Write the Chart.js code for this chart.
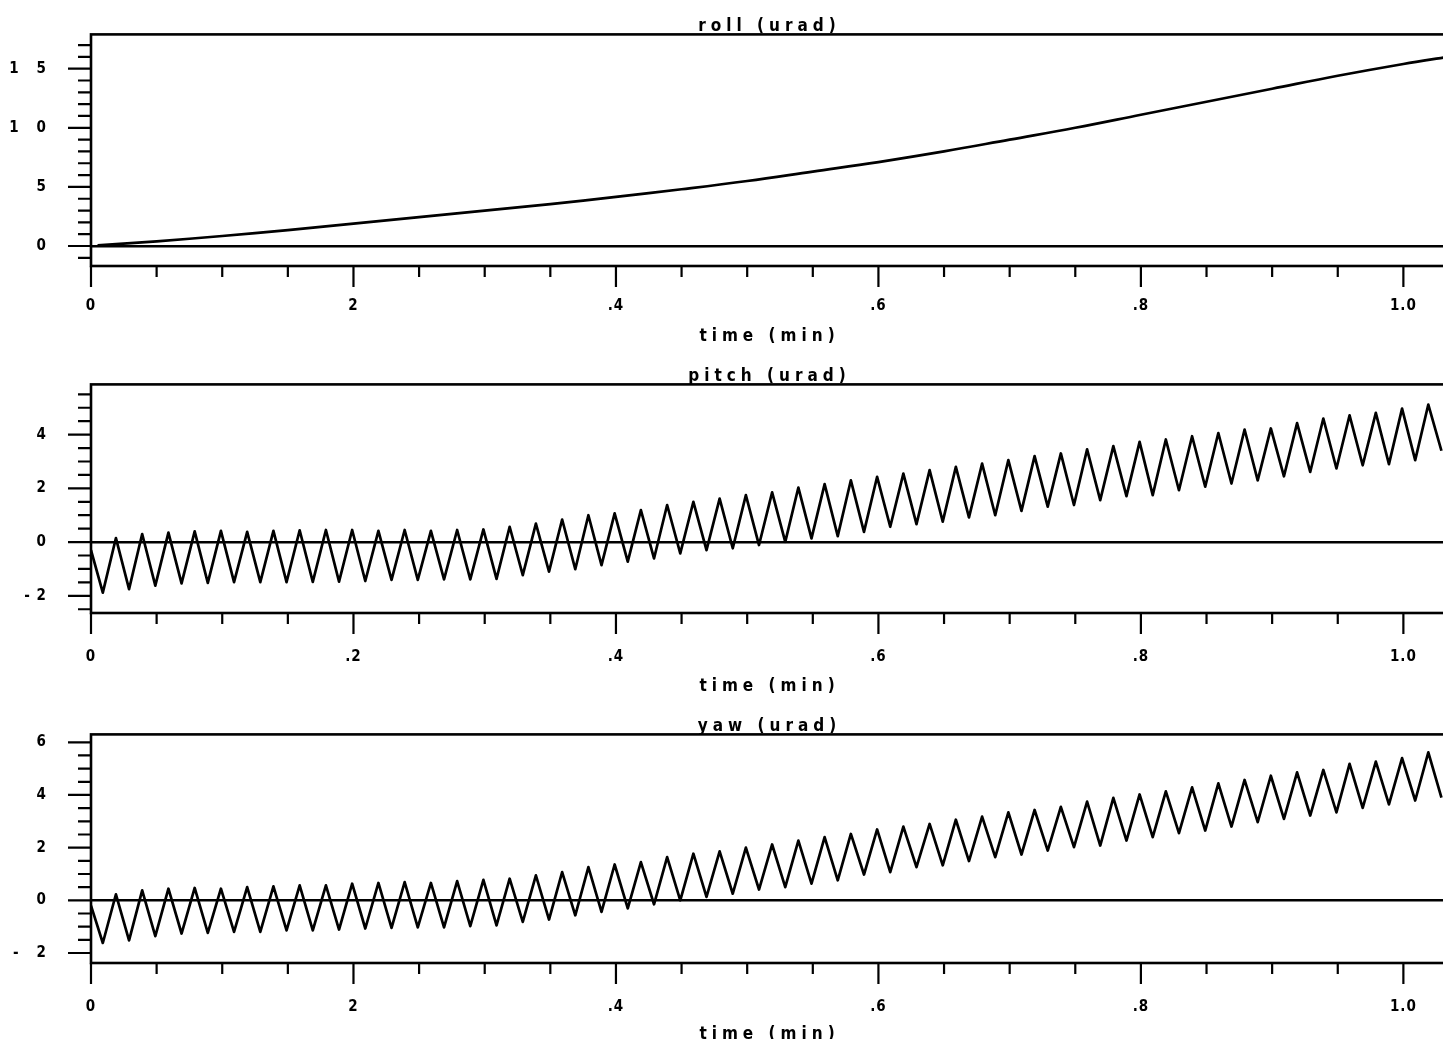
<!DOCTYPE html>
<html>
<head>
<meta charset="utf-8">
<script src="https://cdn.jsdelivr.net/npm/chart.js@4.4.1/dist/chart.umd.min.js"></script>
<style>
  html, body { margin: 0; padding: 0; background: #fff; overflow: hidden; width: 1443px; height: 1039px; }
  canvas { position: absolute; left: 0; }
  #roll { top: 0; }
  #pitch { top: 350px; }
  #yaw { top: 700px; }
</style>
</head>
<body>
<canvas id="roll" width="1448" height="350"></canvas>
<canvas id="pitch" width="1448" height="350"></canvas>
<canvas id="yaw" width="1448" height="350"></canvas>
<script>
// roll drift, sampled every 0.05 min
const rollTimes = [0.005, 0.05, 0.1, 0.15, 0.2, 0.25, 0.3, 0.35, 0.4, 0.45, 0.5, 0.55,
  0.6, 0.65, 0.7, 0.75, 0.8, 0.85, 0.9, 0.95, 1.0, 1.034];
const rollValues = [0.05, 0.4, 0.85, 1.35, 1.9, 2.45, 3.0, 3.55, 4.15, 4.8, 5.5, 6.3,
  7.1, 8.0, 9.0, 10.0, 11.1, 12.2, 13.3, 14.4, 15.4, 16.0];

// pitch / yaw: start value, then alternating trough / peak every 0.01 min from t = 0.009
const swingStart = 0.009;
const swingStep = 0.01;
const pitchValues = [-0.3,
  -1.88, 0.15, -1.75, 0.30, -1.62, 0.35, -1.54, 0.40, -1.52, 0.42,
  -1.49, 0.38, -1.49, 0.42, -1.49, 0.44, -1.48, 0.45, -1.47, 0.45,
  -1.45, 0.42, -1.41, 0.45, -1.41, 0.42, -1.39, 0.45, -1.39, 0.47,
  -1.37, 0.57, -1.23, 0.69, -1.10, 0.84, -1.01, 1.00, -0.86, 1.07,
  -0.73, 1.19, -0.61, 1.38, -0.42, 1.50, -0.30, 1.62, -0.23, 1.75,
  -0.11, 1.85, 0.01, 2.03, 0.14, 2.16, 0.22, 2.30, 0.38, 2.43,
  0.57, 2.55, 0.67, 2.68, 0.76, 2.80, 0.92, 2.92, 1.00, 3.05,
  1.16, 3.20, 1.32, 3.30, 1.38, 3.45, 1.56, 3.57, 1.71, 3.73,
  1.75, 3.82, 1.93, 3.94, 2.06, 4.06, 2.18, 4.19, 2.30, 4.23,
  2.45, 4.43, 2.61, 4.60, 2.74, 4.72, 2.86, 4.81, 2.90, 4.97,
  3.05, 5.12, 3.40];
const yawValues = [-0.2,
  -1.62, 0.23, -1.52, 0.38, -1.36, 0.44, -1.26, 0.47, -1.24, 0.44,
  -1.20, 0.50, -1.20, 0.53, -1.14, 0.57, -1.14, 0.57, -1.11, 0.63,
  -1.07, 0.66, -1.05, 0.69, -1.03, 0.66, -1.03, 0.73, -0.98, 0.78,
  -0.95, 0.82, -0.82, 0.95, -0.73, 1.07, -0.57, 1.26, -0.44, 1.36,
  -0.31, 1.45, -0.15, 1.64, 0.00, 1.77, 0.13, 1.86, 0.25, 2.00,
  0.41, 2.12, 0.50, 2.27, 0.63, 2.40, 0.76, 2.52, 0.98, 2.69,
  1.07, 2.80, 1.26, 2.90, 1.33, 3.06, 1.49, 3.18, 1.64, 3.34,
  1.74, 3.43, 1.89, 3.55, 2.02, 3.75, 2.08, 3.89, 2.27, 4.02,
  2.40, 4.14, 2.55, 4.29, 2.65, 4.44, 2.80, 4.57, 2.97, 4.73,
  3.09, 4.86, 3.22, 4.95, 3.34, 5.18, 3.51, 5.27, 3.64, 5.40,
  3.79, 5.62, 3.90];

// axis labels
const xTickValues = [0, 0.2, 0.4, 0.6, 0.8, 1.0];
const rollXLabels = ['0', '2', '.4', '.6', '.8', '1.0'];
const pitchXLabels = ['0', '.2', '.4', '.6', '.8', '1.0'];
const yawXLabels = ['0', '2', '.4', '.6', '.8', '1.0'];
const rollYTicks = [0, 5, 10, 15];
const rollYLabels = ['0', '5', '1   0', '1   5'];
const pitchYTicks = [-2, 0, 2, 4];
const pitchYLabels = ['- 2', '0', '2', '4'];
const yawYTicks = [-2, 0, 2, 4, 6];
const yawYLabels = ['-   2', '0', '2', '4', '6'];

const FONT = "'Liberation Sans Narrow', 'DejaVu Sans Condensed', 'DejaVu Sans', sans-serif";
const TITLE_FONT = { family: FONT, size: 17, weight: 'bold' };
const TICK_FONT = { family: FONT, size: 15, weight: 'bold' };

function swingTimes(n) {
  const t = [0];
  for (let k = 1; k < n; k++) t.push(+(swingStart + (k - 1) * swingStep).toFixed(3));
  return t;
}

function toPoints(times, values) {
  return values.map((v, i) => ({ x: times[i], y: v }));
}

function near(list, v) {
  return list.findIndex(m => Math.abs(m - v) < 1e-6);
}

function labeller(values, labels) {
  return v => {
    const i = near(values, v);
    return i < 0 ? '' : labels[i];
  };
}

// box around the plot plus long/short tick marks outside it;
// titles are drawn wide-spaced, tick labels (z: 1, after the datasets) tighter
const framePlugin = {
  id: 'plotFrame',
  beforeDraw(chart) {
    chart.ctx.letterSpacing = '5px';
  },
  afterDatasetsDraw(chart, args, opts) {
    const { ctx, chartArea: a, scales: { x, y } } = chart;
    ctx.save();
    ctx.strokeStyle = '#000';
    ctx.lineWidth = 2.6;
    ctx.strokeRect(a.left, a.top, a.right - a.left, a.bottom - a.top);
    ctx.lineWidth = 2.2;
    ctx.beginPath();
    x.ticks.forEach(t => {
      const px = x.getPixelForValue(t.value);
      const len = near(opts.xMajor, t.value) >= 0 ? 21 : 11;
      ctx.moveTo(px, a.bottom);
      ctx.lineTo(px, a.bottom + len);
    });
    y.ticks.forEach(t => {
      const py = y.getPixelForValue(t.value);
      const len = near(opts.yMajor, t.value) >= 0 ? 23 : 13;
      ctx.moveTo(a.left, py);
      ctx.lineTo(a.left - len, py);
    });
    ctx.stroke();
    ctx.restore();
    ctx.letterSpacing = '1px';
  }
};

function panel(id, p) {
  new Chart(document.getElementById(id), {
    type: 'line',
    data: {
      datasets: [{
        data: toPoints(p.times, p.values),
        borderColor: '#000',
        borderWidth: 2.7,
        pointRadius: 0,
        tension: p.smooth ? 0.4 : 0,
        borderJoinStyle: 'round',
        fill: false
      }]
    },
    options: {
      responsive: false,
      animation: false,
      devicePixelRatio: 1,
      layout: { padding: 0, autoPadding: false },
      plugins: {
        legend: { display: false },
        tooltip: { enabled: false },
        title: {
          display: true,
          text: p.title,
          color: '#000',
          fullSize: false,
          font: TITLE_FONT,
          padding: { top: 16, bottom: -2 }
        },
        plotFrame: { xMajor: xTickValues, yMajor: p.yTicks }
      },
      scales: {
        x: {
          type: 'linear',
          min: 0,
          max: 1.034,
          afterFit: s => {
            s.height = p.xHeight;
            s.paddingLeft = 0;
            s.paddingRight = 0;
          },
          grid: { display: false },
          border: { display: false },
          ticks: {
            z: 1,
            stepSize: 0.05,
            includeBounds: false,
            autoSkip: false,
            maxRotation: 0,
            padding: p.xPad,
            color: '#000',
            font: TICK_FONT,
            callback: labeller(xTickValues, p.xLabels)
          },
          title: {
            display: true,
            text: 'time (min)',
            color: '#000',
            font: TITLE_FONT,
            padding: { top: 0, bottom: p.xTitlePad }
          }
        },
        y: {
          min: p.yMin,
          max: p.yMax,
          afterFit: s => {
            s.width = 91;
            s.paddingTop = 0;
            s.paddingBottom = 0;
          },
          border: { display: false },
          grid: {
            drawTicks: false,
            color: '#000',
            lineWidth: c => (c.tick && c.tick.value === 0 ? 2.6 : 0)
          },
          ticks: {
            z: 1,
            stepSize: p.yStep,
            includeBounds: false,
            autoSkip: false,
            padding: 44,
            color: '#000',
            font: TICK_FONT,
            callback: labeller(p.yTicks, p.yLabels)
          }
        }
      }
    },
    plugins: [framePlugin]
  });
}

panel('roll', {
  title: 'roll (urad)',
  times: rollTimes, values: rollValues, smooth: true,
  yMin: -1.69, yMax: 17.9, yStep: 1,
  yTicks: rollYTicks, yLabels: rollYLabels, xLabels: rollXLabels,
  xHeight: 84, xPad: 23, xTitlePad: 3
});

panel('pitch', {
  title: 'pitch (urad)',
  times: swingTimes(pitchValues.length), values: pitchValues, smooth: false,
  yMin: -2.64, yMax: 5.87, yStep: 0.5,
  yTicks: pitchYTicks, yLabels: pitchYLabels, xLabels: pitchXLabels,
  xHeight: 87, xPad: 27, xTitlePad: 3
});

panel('yaw', {
  title: 'yaw (urad)',
  times: swingTimes(yawValues.length), values: yawValues, smooth: false,
  yMin: -2.38, yMax: 6.3, yStep: 0.5,
  yTicks: yawYTicks, yLabels: yawYLabels, xLabels: yawXLabels,
  xHeight: 87, xPad: 27, xTitlePad: 5
});
</script>
</body>
</html>
